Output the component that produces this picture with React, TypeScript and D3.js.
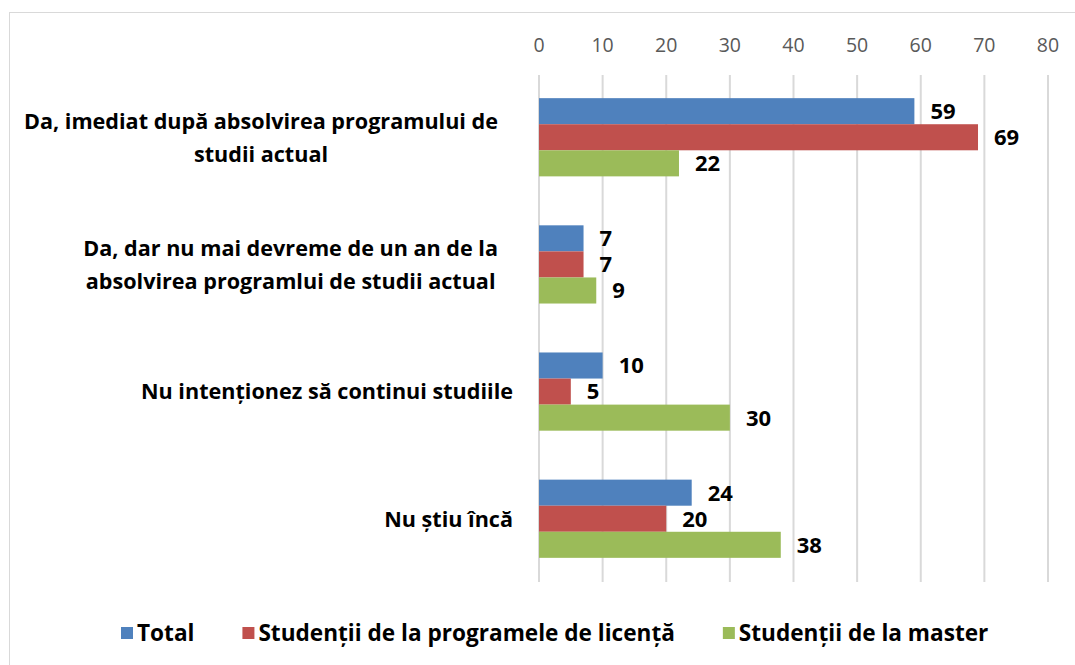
import React from 'react';
import * as d3 from 'd3';

// Chart data
const categories = [
  'Da, imediat după absolvirea programului de|studii actual',
  'Da, dar nu mai devreme de un an de la|absolvirea programlui de studii actual',
  'Nu intenționez să continui studiile',
  'Nu știu încă',
];
const seriesNames = ['Total', 'Studenții de la programele de licență', 'Studenții de la master'];
const totalValues = [59, 7, 10, 24];
const licentaValues = [69, 7, 5, 20];
const masterValues = [22, 9, 30, 38];
const xTicks = [0, 10, 20, 30, 40, 50, 60, 70, 80];
const colors = ['#4f81bd', '#c0504d', '#9bbb59'];

const FONT = '"Open Sans", Lato, sans-serif';

let canvas: HTMLCanvasElement | null = null;
function textWidth(txt: string, font: string) {
  if (!canvas) canvas = document.createElement('canvas');
  const ctx = canvas.getContext('2d')!;
  ctx.font = font;
  return ctx.measureText(txt).width;
}

export default function App() {
  const width = 1075;
  const height = 665;
  const series = [totalValues, licentaValues, masterValues];

  const x = d3.scaleLinear().domain([0, 80]).range([539, 1048]);
  const y = d3.scaleBand<string>()
    .domain(categories)
    .range([74, 582])
    .paddingInner(0.385)
    .paddingOuter(0.19);
  const inner = d3.scaleBand<number>()
    .domain(d3.range(seriesNames.length))
    .range([0, y.bandwidth()]);

  const labelRight = 513;
  const labelSize = 21.6;
  const labelFont = `bold ${labelSize}px ${FONT}`;
  const lineGap = 33;

  // legend layout
  const legendSize = 22.6;
  const legendFont = `bold ${legendSize}px ${FONT}`;
  const legendGap = 48;
  const sq = 12;
  let lx = 121;
  const legendPos = seriesNames.map(name => {
    const p = lx;
    lx += sq + 4 + textWidth(name, legendFont) + legendGap;
    return p;
  });

  return (
    <svg width={width} height={height} style={{ position: 'absolute', left: 0, top: 0 }}>
      <rect x={0} y={0} width={width} height={height} fill="#fff" />
      <rect x={9.5} y={12.5} width={width + 20} height={height + 20} fill="none" stroke="#d9d9d9" strokeWidth={1} />

      {/* grid lines */}
      {xTicks.map(t => (
        <line key={'g' + t} x1={x(t)} x2={x(t)} y1={75} y2={582} stroke="#d9d9d9" strokeWidth={2} />
      ))}
      {/* tick labels */}
      {xTicks.map(t => (
        <text key={'t' + t} x={x(t)} y={52} textAnchor="middle" fontFamily={FONT} fontSize={19.5} fill="#595959">
          {t}
        </text>
      ))}

      {/* bars */}
      {categories.map((c, ci) =>
        series.map((vals, si) => {
          const by = (y(c) as number) + (inner(si) as number);
          const bh = inner.bandwidth();
          return (
            <g key={c + si}>
              <rect x={x(0)} y={by} width={x(vals[ci]) - x(0)} height={bh} fill={colors[si]} />
              <text x={x(vals[ci]) + 16} y={by + bh / 2} dy="0.36em" fontFamily={FONT} fontWeight="bold" fontSize={22} fill="#000">
                {vals[ci]}
              </text>
            </g>
          );
        })
      )}

      {/* category labels */}
      {categories.map(c => {
        const lines = c.split('|');
        const cy = (y(c) as number) + y.bandwidth() / 2;
        if (lines.length === 1) {
          return (
            <text key={c} x={labelRight} y={cy} dy="0.36em" textAnchor="end" fontFamily={FONT} fontWeight="bold" fontSize={labelSize} fill="#000">
              {c}
            </text>
          );
        }
        const maxW = d3.max(lines, l => textWidth(l, labelFont)) as number;
        const cx = labelRight - 15 - maxW / 2;
        return (
          <g key={c}>
            {lines.map((l, li) => (
              <text key={li} x={cx} y={cy + (li - (lines.length - 1) / 2) * lineGap} dy="0.36em" textAnchor="middle" fontFamily={FONT} fontWeight="bold" fontSize={labelSize} fill="#000">
                {l}
              </text>
            ))}
          </g>
        );
      })}

      {/* legend */}
      {seriesNames.map((name, k) => (
        <g key={name}>
          <rect x={legendPos[k]} y={627} width={sq} height={sq} fill={colors[k]} />
          <text x={legendPos[k] + sq + 4} y={633} dy="0.36em" fontFamily={FONT} fontWeight="bold" fontSize={legendSize} fill="#000">
            {name}
          </text>
        </g>
      ))}
    </svg>
  );
}
